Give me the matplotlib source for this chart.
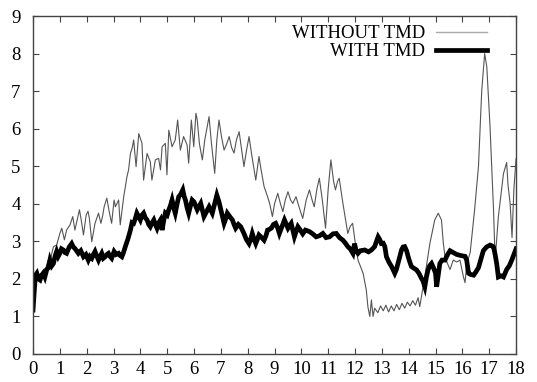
import matplotlib
matplotlib.use("Agg")
import matplotlib.pyplot as plt
import numpy as np

# response without the damper (thin grey trace)
without_x = [
    0.00, 0.05, 0.14, 0.25, 0.38, 0.48, 0.57, 0.66, 0.76, 0.88, 1.00, 1.07, 1.17, 1.25, 1.38, 1.48,
    1.56, 1.64, 1.73, 1.80, 1.88, 1.98, 2.05, 2.10, 2.19, 2.31, 2.44, 2.53, 2.60, 2.65, 2.75, 2.85,
    2.93, 3.02, 3.07, 3.19, 3.25, 3.38, 3.50, 3.56, 3.63, 3.70, 3.75, 3.84, 3.94, 4.06, 4.12, 4.25,
    4.37, 4.43, 4.56, 4.68, 4.75, 4.81, 4.93, 4.99, 5.06, 5.18, 5.30, 5.39, 5.49, 5.61, 5.74, 5.80,
    5.90, 5.99, 6.07, 6.12, 6.20, 6.31, 6.40, 6.56, 6.65, 6.77, 6.85, 6.93, 7.02, 7.12, 7.22, 7.31,
    7.40, 7.49, 7.58, 7.68, 7.78, 7.86, 7.95, 8.05, 8.15, 8.30, 8.42, 8.50, 8.61, 8.74, 8.82, 8.92,
    9.00, 9.12, 9.22, 9.31, 9.40, 9.50, 9.60, 9.68, 9.80, 9.92, 10.05, 10.18, 10.30, 10.40, 10.48, 10.58,
    10.67, 10.78, 10.90, 11.00, 11.10, 11.20, 11.27, 11.35, 11.41, 11.55, 11.73, 11.82, 11.91, 12.00, 12.11, 12.30,
    12.42, 12.48, 12.55, 12.61, 12.67, 12.73, 12.85, 12.95, 13.05, 13.15, 13.25, 13.35, 13.45, 13.55, 13.65, 13.75,
    13.85, 13.95, 14.05, 14.15, 14.25, 14.35, 14.41, 14.60, 14.79, 14.97, 15.10, 15.22, 15.29, 15.35, 15.45, 15.54,
    15.66, 15.79, 15.91, 16.04, 16.10, 16.16, 16.29, 16.45, 16.60, 16.72, 16.83, 16.91, 17.03, 17.16, 17.22, 17.34,
    17.53, 17.65, 17.70, 17.78, 17.85, 17.92, 18.00,
]
without_y = [
    1.20, 1.70, 1.97, 2.05, 2.24, 2.30, 2.50, 2.55, 2.86, 2.90, 3.21, 3.35, 3.04, 3.30, 3.44, 3.66,
    3.30, 3.55, 3.84, 3.55, 3.17, 3.70, 3.80, 3.61, 2.99, 3.48, 3.75, 3.48, 3.70, 3.92, 4.15, 3.75,
    3.48, 4.10, 3.92, 4.10, 3.44, 4.19, 4.72, 4.90, 5.34, 5.50, 5.70, 4.99, 5.87, 5.61, 4.63, 5.34,
    5.12, 4.63, 5.17, 5.21, 4.90, 5.52, 5.61, 4.77, 5.96, 5.52, 5.70, 6.23, 5.43, 5.79, 5.57, 5.08,
    6.23, 5.52, 6.41, 6.23, 5.60, 5.17, 5.70, 6.32, 5.60, 4.81, 5.70, 6.23, 5.80, 5.43, 5.60, 5.79,
    5.50, 5.35, 5.70, 5.92, 5.40, 4.99, 5.40, 5.79, 5.30, 4.63, 5.26, 4.90, 4.46, 4.19, 4.00, 3.66,
    4.00, 4.28, 4.00, 3.79, 4.10, 4.32, 4.10, 4.01, 4.19, 3.90, 3.61, 4.10, 4.37, 4.10, 3.92, 4.40,
    4.68, 4.10, 3.35, 4.40, 5.17, 4.60, 4.37, 4.60, 4.68, 4.00, 3.21, 3.40, 3.48, 3.00, 2.50, 2.15,
    1.70, 1.25, 1.00, 1.44, 1.00, 1.22, 1.10, 1.28, 1.15, 1.30, 1.12, 1.28, 1.15, 1.32, 1.18, 1.35,
    1.22, 1.38, 1.28, 1.42, 1.30, 1.50, 1.26, 2.06, 2.95, 3.57, 3.75, 3.57, 2.95, 2.60, 2.40, 2.25,
    2.50, 2.45, 2.50, 2.05, 1.90, 2.40, 2.70, 3.80, 5.00, 7.00, 8.00, 7.65, 6.05, 3.84, 2.50, 3.65,
    4.80, 5.10, 4.50, 4.00, 3.10, 4.40, 5.20,
]

# response with the damper (thick black trace)
with_x = [
    0.00, 0.04, 0.09, 0.14, 0.20, 0.26, 0.32, 0.38, 0.44, 0.51, 0.57, 0.63, 0.70, 0.76, 0.82, 0.88,
    0.94, 1.00, 1.06, 1.13, 1.19, 1.25, 1.35, 1.44, 1.50, 1.56, 1.62, 1.69, 1.78, 1.88, 1.97, 2.06,
    2.12, 2.19, 2.25, 2.31, 2.38, 2.44, 2.50, 2.56, 2.62, 2.69, 2.75, 2.81, 2.87, 2.93, 3.02, 3.10,
    3.19, 3.25, 3.31, 3.37, 3.44, 3.53, 3.63, 3.69, 3.75, 3.81, 3.87, 3.94, 4.00, 4.06, 4.12, 4.19,
    4.25, 4.31, 4.37, 4.44, 4.50, 4.56, 4.62, 4.69, 4.75, 4.81, 4.87, 4.93, 5.00, 5.06, 5.12, 5.18,
    5.24, 5.30, 5.37, 5.43, 5.50, 5.58, 5.63, 5.68, 5.74, 5.80, 5.87, 5.93, 6.00, 6.12, 6.25, 6.37,
    6.47, 6.56, 6.68, 6.77, 6.85, 6.93, 7.00, 7.06, 7.12, 7.18, 7.24, 7.34, 7.43, 7.49, 7.55, 7.65,
    7.74, 7.80, 7.86, 7.95, 8.05, 8.11, 8.17, 8.24, 8.30, 8.36, 8.42, 8.52, 8.61, 8.68, 8.74, 8.81,
    8.88, 8.96, 9.04, 9.12, 9.18, 9.28, 9.37, 9.44, 9.50, 9.56, 9.62, 9.68, 9.74, 9.80, 9.87, 9.96,
    10.05, 10.15, 10.30, 10.42, 10.55, 10.68, 10.80, 10.92, 11.05, 11.18, 11.30, 11.42, 11.55, 11.64, 11.73, 11.82,
    11.92, 11.98, 12.04, 12.11, 12.20, 12.36, 12.50, 12.61, 12.73, 12.86, 12.92, 12.98, 13.05, 13.11, 13.17, 13.26,
    13.36, 13.48, 13.54, 13.60, 13.67, 13.73, 13.79, 13.85, 13.92, 13.98, 14.04, 14.10, 14.20, 14.29, 14.38, 14.47,
    14.53, 14.60, 14.66, 14.72, 14.78, 14.85, 14.92, 15.00, 15.04, 15.10, 15.16, 15.24, 15.35, 15.45, 15.54, 15.66,
    15.79, 15.95, 16.10, 16.16, 16.23, 16.30, 16.42, 16.50, 16.60, 16.70, 16.78, 16.90, 17.03, 17.10, 17.16, 17.22,
    17.28, 17.34, 17.44, 17.53, 17.65, 17.75, 17.84, 17.92, 18.00,
]
with_y = [
    1.17, 1.61, 2.10, 2.15, 2.00, 1.97, 2.10, 2.15, 2.05, 2.24, 2.30, 2.50, 2.35, 2.41, 2.60, 2.73,
    2.60, 2.68, 2.80, 2.77, 2.70, 2.68, 2.85, 2.94, 2.85, 2.81, 2.75, 2.68, 2.75, 2.59, 2.65, 2.50,
    2.60, 2.55, 2.65, 2.73, 2.60, 2.50, 2.60, 2.68, 2.55, 2.59, 2.65, 2.68, 2.60, 2.55, 2.73, 2.65,
    2.68, 2.62, 2.59, 2.70, 2.86, 3.05, 3.30, 3.50, 3.48, 3.60, 3.75, 3.65, 3.57, 3.70, 3.75, 3.62,
    3.57, 3.45, 3.39, 3.50, 3.57, 3.45, 3.35, 3.50, 3.57, 3.30, 3.55, 3.75, 3.70, 3.84, 3.95, 4.10,
    3.90, 3.75, 4.00, 4.19, 4.25, 4.37, 4.20, 4.10, 3.90, 3.75, 3.95, 4.10, 4.05, 3.84, 4.01, 3.66,
    3.80, 3.92, 3.75, 4.00, 4.23, 4.05, 3.84, 3.65, 3.48, 3.60, 3.75, 3.65, 3.57, 3.45, 3.35, 3.45,
    3.39, 3.30, 3.21, 3.05, 2.94, 3.05, 3.21, 3.05, 2.94, 3.05, 3.17, 3.10, 3.03, 3.15, 3.30, 3.32,
    3.35, 3.45, 3.48, 3.35, 3.21, 3.40, 3.57, 3.45, 3.35, 3.42, 3.48, 3.30, 3.12, 3.25, 3.39, 3.30,
    3.20, 3.30, 3.26, 3.20, 3.12, 3.15, 3.21, 3.10, 3.12, 3.20, 3.21, 3.10, 3.03, 2.95, 2.86, 2.80,
    2.68, 2.94, 2.75, 2.68, 2.75, 2.77, 2.72, 2.77, 2.86, 3.12, 3.05, 2.94, 2.95, 2.86, 2.59, 2.45,
    2.33, 2.15, 2.25, 2.41, 2.60, 2.77, 2.85, 2.86, 2.75, 2.59, 2.45, 2.33, 2.28, 2.24, 2.15, 2.02,
    1.95, 1.79, 2.05, 2.24, 2.35, 2.41, 2.30, 2.15, 1.79, 2.10, 2.41, 2.50, 2.50, 2.65, 2.75, 2.70,
    2.65, 2.62, 2.60, 2.50, 2.15, 2.12, 2.10, 2.18, 2.30, 2.55, 2.75, 2.85, 2.90, 2.88, 2.85, 2.65,
    2.40, 2.05, 2.08, 2.05, 2.25, 2.35, 2.50, 2.65, 2.80,
]

x_ticks = np.arange(0, 19, 1)
y_ticks = np.arange(0, 10, 1)

plt.rcParams["font.family"] = ["Liberation Serif", "DejaVu Serif"]

fig = plt.figure(figsize=(5.37, 3.82), dpi=100)
ax = fig.add_axes([0.0615, 0.0733, 0.8995, 0.8848])

ax.plot(without_x, without_y, color="#555555", lw=0.8, label="WITHOUT TMD")
ax.plot(with_x, with_y, color="black", lw=3.4, solid_joinstyle="miter", label="WITH TMD")

ax.set_xlim(0, 18)
ax.set_ylim(0, 9)
ax.set_xticks(x_ticks)
ax.set_yticks(y_ticks)
ax.tick_params(direction="in", length=4, width=0.8, top=True, right=True,
               labelsize=13.5, color="#444444")
ax.tick_params(axis="x", pad=5)
ax.tick_params(axis="y", pad=9)
for spine in ax.spines.values():
    spine.set_color("#444444")
    spine.set_linewidth(1.0)

leg = ax.legend(loc="upper right", frameon=False, markerfirst=False, fontsize=13.5,
                handlelength=2.7, handletextpad=0.6, labelspacing=0.05,
                borderaxespad=0.0, bbox_to_anchor=(0.955, 0.995))
leg.get_lines()[0].set_color("#aaaaaa")
leg.get_lines()[0].set_linewidth(1.0)

fig.savefig("out.png", dpi=100)
